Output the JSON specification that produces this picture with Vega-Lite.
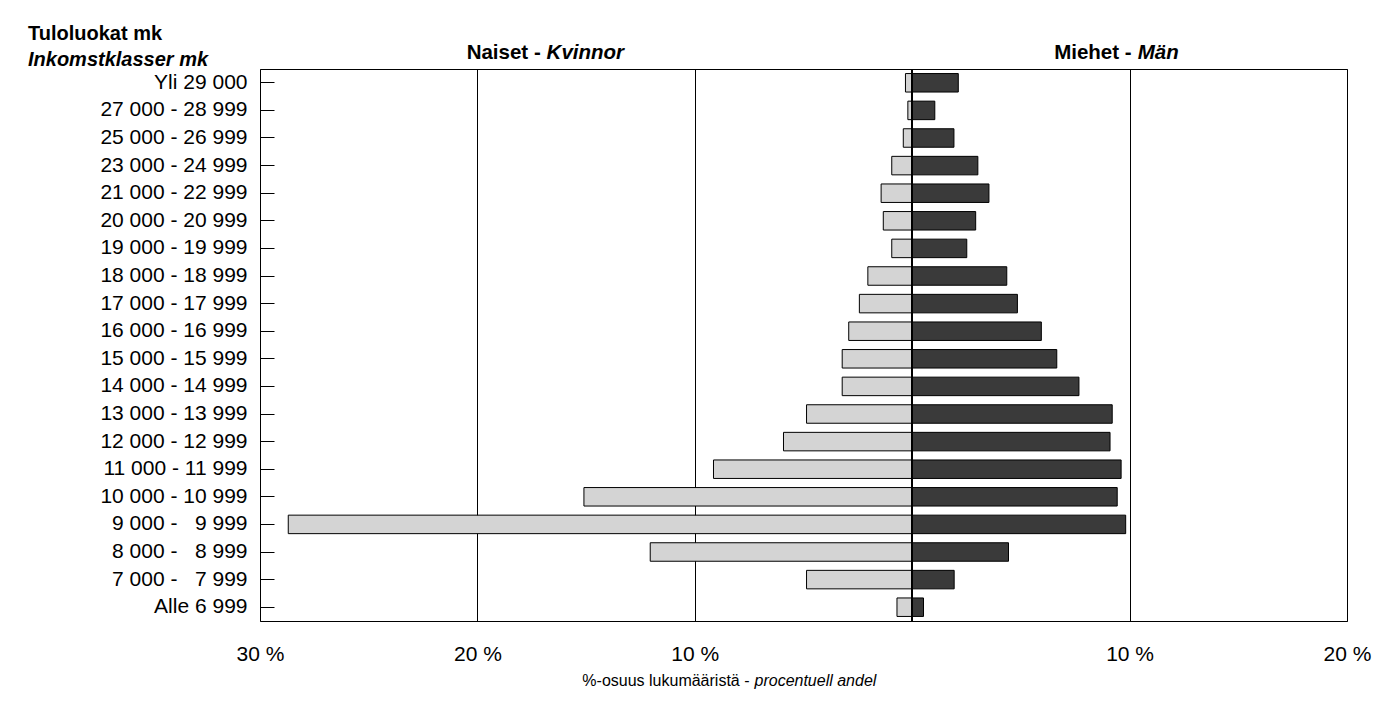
{
  "$schema": "https://vega.github.io/schema/vega-lite/v6.json",
  "autosize": "none",
  "width": 1087,
  "height": 552,
  "padding": {"left": 260, "top": 69, "right": 45, "bottom": 92},
  "background": "white",
  "config": {
    "font": "Liberation Sans",
    "view": {"stroke": "black", "strokeWidth": 1},
    "axis": {"labelColor": "black", "titleColor": "black"}
  },
  "title": {
    "text": "Tuloluokat mk",
    "subtitle": "Inkomstklasser mk",
    "anchor": "start",
    "frame": "group",
    "dx": -232,
    "dy": 32,
    "fontSize": 20,
    "fontWeight": "bold",
    "color": "black",
    "subtitleFontSize": 20,
    "subtitleFontWeight": "bold",
    "subtitleFontStyle": "italic",
    "subtitleColor": "black",
    "subtitlePadding": 6,
    "offset": 4
  },
  "data": {
    "values": [
      {"luokka": "Yli 29 000", "sukupuoli": "Naiset", "osuus": -0.31},
      {"luokka": "27 000 - 28 999", "sukupuoli": "Naiset", "osuus": -0.2},
      {"luokka": "25 000 - 26 999", "sukupuoli": "Naiset", "osuus": -0.41},
      {"luokka": "23 000 - 24 999", "sukupuoli": "Naiset", "osuus": -0.94},
      {"luokka": "21 000 - 22 999", "sukupuoli": "Naiset", "osuus": -1.43},
      {"luokka": "20 000 - 20 999", "sukupuoli": "Naiset", "osuus": -1.33},
      {"luokka": "19 000 - 19 999", "sukupuoli": "Naiset", "osuus": -0.94},
      {"luokka": "18 000 - 18 999", "sukupuoli": "Naiset", "osuus": -2.04},
      {"luokka": "17 000 - 17 999", "sukupuoli": "Naiset", "osuus": -2.43},
      {"luokka": "16 000 - 16 999", "sukupuoli": "Naiset", "osuus": -2.92},
      {"luokka": "15 000 - 15 999", "sukupuoli": "Naiset", "osuus": -3.22},
      {"luokka": "14 000 - 14 999", "sukupuoli": "Naiset", "osuus": -3.22},
      {"luokka": "13 000 - 13 999", "sukupuoli": "Naiset", "osuus": -4.86},
      {"luokka": "12 000 - 12 999", "sukupuoli": "Naiset", "osuus": -5.92},
      {"luokka": "11 000 - 11 999", "sukupuoli": "Naiset", "osuus": -9.14},
      {"luokka": "10 000 - 10 999", "sukupuoli": "Naiset", "osuus": -15.1},
      {"luokka": "9 000 -\u00a0\u20079 999", "sukupuoli": "Naiset", "osuus": -28.7},
      {"luokka": "8 000 -\u00a0\u20078 999", "sukupuoli": "Naiset", "osuus": -12.05},
      {"luokka": "7 000 -\u00a0\u20077 999", "sukupuoli": "Naiset", "osuus": -4.86},
      {"luokka": "Alle 6 999", "sukupuoli": "Naiset", "osuus": -0.7},
      {"luokka": "Yli 29 000", "sukupuoli": "Miehet", "osuus": 2.12},
      {"luokka": "27 000 - 28 999", "sukupuoli": "Miehet", "osuus": 1.04},
      {"luokka": "25 000 - 26 999", "sukupuoli": "Miehet", "osuus": 1.92},
      {"luokka": "23 000 - 24 999", "sukupuoli": "Miehet", "osuus": 3.02},
      {"luokka": "21 000 - 22 999", "sukupuoli": "Miehet", "osuus": 3.53},
      {"luokka": "20 000 - 20 999", "sukupuoli": "Miehet", "osuus": 2.92},
      {"luokka": "19 000 - 19 999", "sukupuoli": "Miehet", "osuus": 2.51},
      {"luokka": "18 000 - 18 999", "sukupuoli": "Miehet", "osuus": 4.35},
      {"luokka": "17 000 - 17 999", "sukupuoli": "Miehet", "osuus": 4.84},
      {"luokka": "16 000 - 16 999", "sukupuoli": "Miehet", "osuus": 5.94},
      {"luokka": "15 000 - 15 999", "sukupuoli": "Miehet", "osuus": 6.65},
      {"luokka": "14 000 - 14 999", "sukupuoli": "Miehet", "osuus": 7.67},
      {"luokka": "13 000 - 13 999", "sukupuoli": "Miehet", "osuus": 9.2},
      {"luokka": "12 000 - 12 999", "sukupuoli": "Miehet", "osuus": 9.1},
      {"luokka": "11 000 - 11 999", "sukupuoli": "Miehet", "osuus": 9.61},
      {"luokka": "10 000 - 10 999", "sukupuoli": "Miehet", "osuus": 9.43},
      {"luokka": "9 000 -\u00a0\u20079 999", "sukupuoli": "Miehet", "osuus": 9.82},
      {"luokka": "8 000 -\u00a0\u20078 999", "sukupuoli": "Miehet", "osuus": 4.43},
      {"luokka": "7 000 -\u00a0\u20077 999", "sukupuoli": "Miehet", "osuus": 1.93},
      {"luokka": "Alle 6 999", "sukupuoli": "Miehet", "osuus": 0.52}
    ]
  },
  "resolve": {"axis": {"x": "independent"}},
  "layer": [
    {
      "mark": {"type": "bar", "stroke": "black", "strokeWidth": 1},
      "encoding": {
        "y": {
          "field": "luokka",
          "type": "nominal",
          "sort": null,
          "scale": {"paddingInner": 0.33},
          "axis": {
            "title": null,
            "domain": false,
            "grid": false,
            "tickSize": -14,
            "tickColor": "black",
            "tickWidth": 1,
            "labelPadding": 27,
            "labelFontSize": 21,
            "labelColor": "black"
          }
        },
        "x": {
          "field": "osuus",
          "type": "quantitative",
          "scale": {"domain": [-30, 20], "nice": false, "zero": false},
          "axis": {
            "orient": "bottom",
            "values": [-30, -20, -10, 0, 10, 20],
            "labelExpr": "datum.value == 0 ? '' : abs(datum.value) + ' %'",
            "labelFontSize": 21,
            "labelPadding": 39,
            "labelBaseline": "alphabetic",
            "labelFlush": false,
            "labelBound": false,
            "labelOverlap": false,
            "ticks": false,
            "domain": false,
            "grid": true,
            "gridColor": "black",
            "gridOpacity": 1,
            "gridWidth": 1,
            "title": "%-osuus lukumääristä -",
            "titleFont": "Liberation Sans",
            "titleFontSize": 16,
            "titleFontWeight": "normal",
            "titleAlign": "right",
            "titleBaseline": "alphabetic",
            "titleX": 489,
            "titleY": 64
          }
        },
        "color": {
          "field": "sukupuoli",
          "type": "nominal",
          "scale": {"domain": ["Naiset", "Miehet"], "range": ["#d4d4d4", "#3a3a3a"]},
          "legend": null
        }
      }
    },
    {
      "mark": {"type": "rule", "color": "black", "strokeWidth": 1.2},
      "encoding": {
        "x": {
          "datum": 0,
          "type": "quantitative",
          "axis": {
            "orient": "top",
            "values": [-17.11, -16.84, 10.07, 10.35],
            "labelExpr": "datum.value < -17 ? 'Naiset -' : datum.value < 0 ? 'Kvinnor' : datum.value < 10.2 ? 'Miehet -' : 'Män'",
            "labelAlign": {"condition": {"test": "datum.value < -17 || (datum.value > 0 && datum.value < 10.2)", "value": "right"}, "value": "left"},
            "labelFontStyle": {"condition": {"test": "datum.value < -17 || (datum.value > 0 && datum.value < 10.2)", "value": "normal"}, "value": "italic"},
            "labelFontWeight": "bold",
            "labelFontSize": 20.5,
            "labelPadding": 11,
            "labelBaseline": "alphabetic",
            "labelFlush": false,
            "labelBound": false,
            "labelOverlap": false,
            "ticks": false,
            "domain": false,
            "grid": false,
            "title": "procentuell andel",
            "titleFont": "Liberation Sans",
            "titleFontSize": 16,
            "titleFontWeight": "normal",
            "titleFontStyle": "italic",
            "titleAlign": "left",
            "titleBaseline": "alphabetic",
            "titleX": 494,
            "titleY": 616
          }
        }
      }
    }
  ]
}
